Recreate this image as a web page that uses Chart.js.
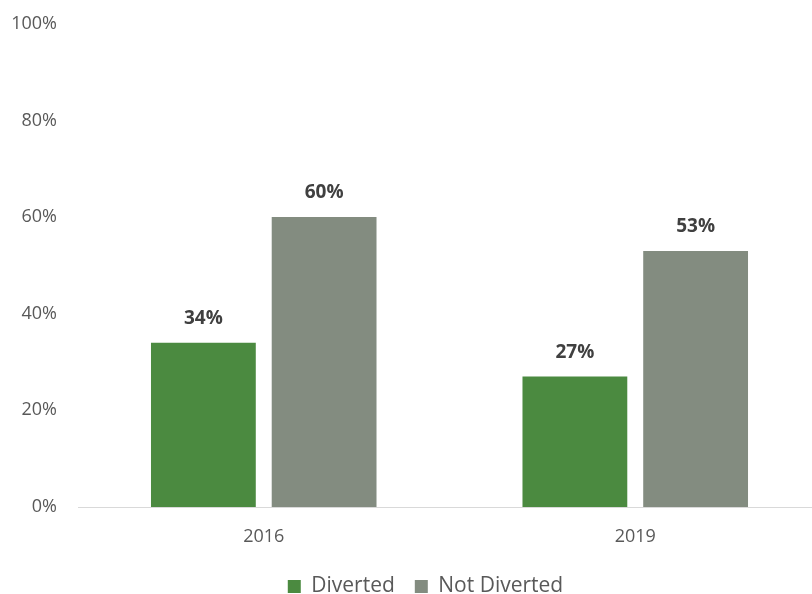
<!DOCTYPE html>
<html lang="en">
<head>
  <meta charset="UTF-8" />
  <title>Diverted vs Not Diverted</title>
  <script src="https://cdn.jsdelivr.net/npm/chart.js"></script>
  <style>
    html, body {
      margin: 0;
      padding: 0;
      background: white;
      overflow: hidden;
    }
    #wrap {
      width: 821px;
      height: 607px;
    }
  </style>
</head>
<body>
  <div id="wrap"><canvas id="divChart" width="821" height="607"></canvas></div>

  <script>
    const years = ['2016', '2019'];
    const diverted = [34, 27];
    const notDiverted = [60, 53];
    const yTicks = [0, 20, 40, 60, 80, 100];

    // percentage labels above each bar
    const barLabels = {
      id: 'barLabels',
      afterDatasetsDraw(chart) {
        const ctx = chart.ctx;
        ctx.save();
        ctx.font = 'bold 19px "Open Sans"';
        ctx.fillStyle = '#404040';
        ctx.textAlign = 'center';
        ctx.textBaseline = 'middle';
        chart.data.datasets.forEach((ds, i) => {
          chart.getDatasetMeta(i).data.forEach((bar, j) => {
            ctx.fillText(ds.data[j] + '%', bar.x, bar.y - 24);
          });
        });
        ctx.restore();
      }
    };

    // nudge the legend a little to the right of the canvas centre
    const legendShift = {
      id: 'legendShift',
      afterLayout(chart) {
        chart.legend.left += 15;
        chart.legend.right += 15;
      }
    };

    new Chart(document.getElementById('divChart').getContext('2d'), {
      type: 'bar',
      data: {
        labels: years,
        datasets: [
          {
            label: 'Diverted',
            data: diverted,
            backgroundColor: '#4b8a40'
          },
          {
            label: 'Not Diverted',
            data: notDiverted,
            backgroundColor: '#838c80'
          }
        ]
      },
      options: {
        responsive: false,
        animation: false,
        categoryPercentage: 0.65,
        barPercentage: 0.868,
        layout: {
          padding: { top: 0, left: 0, right: 0, bottom: 0 }
        },
        plugins: {
          tooltip: { enabled: false },
          legend: {
            position: 'bottom',
            labels: {
              font: { family: '"Open Sans"', size: 21 },
              color: '#595959',
              boxWidth: 13,
              boxHeight: 13,
              padding: 20
            }
          }
        },
        scales: {
          x: {
            afterFit(scale) { scale.height = 49; },
            grid: { display: false },
            border: { color: '#d9d9d9', width: 1 },
            ticks: {
              font: { family: '"Open Sans"', size: 18 },
              color: '#595959',
              padding: 11
            }
          },
          y: {
            min: 0,
            max: 100,
            afterFit(scale) { scale.width = 78; },
            afterBuildTicks(scale) {
              scale.ticks = yTicks.map(v => ({ value: v }));
            },
            grid: { display: false },
            border: { display: false },
            ticks: {
              font: { family: '"Open Sans"', size: 18 },
              color: '#595959',
              padding: 13,
              callback: v => v + '%'
            }
          }
        }
      },
      plugins: [barLabels, legendShift]
    });
  </script>
</body>
</html>
